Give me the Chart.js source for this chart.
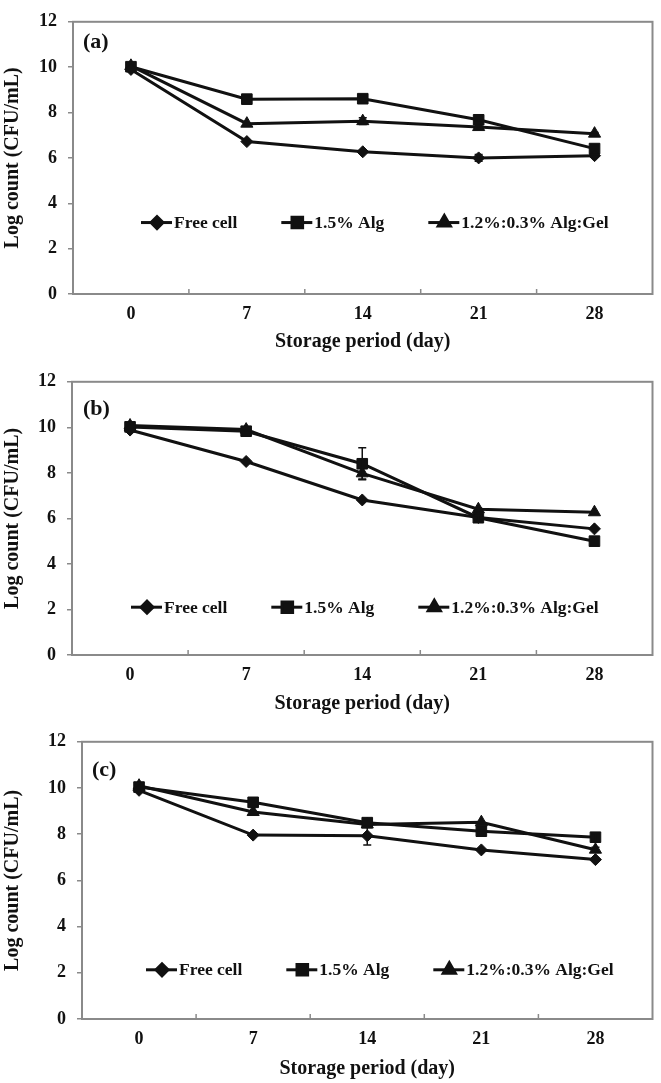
<!DOCTYPE html>
<html>
<head>
<meta charset="utf-8">
<script src="https://cdn.jsdelivr.net/npm/chart.js@4.4.0/dist/chart.umd.min.js"></script>
<style>
  body { margin: 0; background: #fff; }
  canvas { display: block; }
</style>
</head>
<body>
<canvas id="chartA" width="661" height="360"></canvas>
<canvas id="chartB" width="661" height="360"></canvas>
<canvas id="chartC" width="661" height="363"></canvas>
<script>
// storage days (x categories) and series names
const days = ['0', '7', '14', '21', '28'];
const seriesNames = ['Free cell', '1.5% Alg', '1.2%:0.3% Alg:Gel'];
const yTickValues = [0, 2, 4, 6, 8, 10, 12];

// panel (a)
const aFree = [9.90, 6.72, 6.27, 6.00, 6.10];
const aAlg = [10.02, 8.59, 8.61, 7.68, 6.41];
const aGel = [10.06, 7.51, 7.62, 7.36, 7.07];
const aFreeErr = [0, 0, 0, 0.15, 0.05];
const aAlgErr = [0, 0, 0, 0.05, 0];
const aGelErr = [0, 0, 0.15, 0.08, 0.05];

// panel (b)
const bFree = [9.88, 8.50, 6.81, 6.04, 5.54];
const bAlg = [10.02, 9.83, 8.40, 6.03, 5.00];
const bGel = [10.08, 9.90, 7.98, 6.40, 6.27];
const bFreeErr = [0, 0, 0, 0.10, 0];
const bAlgErr = [0, 0.05, 0.70, 0.10, 0];
const bGelErr = [0, 0, 0.25, 0.05, 0];

// panel (c)
const cFree = [9.90, 7.96, 7.93, 7.32, 6.90];
const cAlg = [10.04, 9.38, 8.50, 8.13, 7.87];
const cGel = [10.10, 8.96, 8.42, 8.52, 7.33];
const cFreeErr = [0, 0, 0.40, 0, 0];
const cAlgErr = [0, 0, 0, 0.05, 0.15];
const cGelErr = [0, 0, 0, 0, 0.10];

const ink = '#111';
const frame = '#8a8a8a';
const serif = "'Liberation Serif', 'Times New Roman', serif";
const markers = [
  { style: 'rectRot', radius: 6 },
  { style: 'rect', radius: 7.5 },
  { style: 'triangle', radius: 7 }
];

function marker(ctx, m, x, y) {
  ctx.save();
  ctx.fillStyle = ink;
  ctx.strokeStyle = ink;
  Chart.helpers.drawPoint(ctx, { pointStyle: m.style, radius: m.radius, rotation: 0, borderWidth: 1 }, x, y);
  ctx.restore();
}

// frame, inner x ticks, error bars, legend and panel letter
const decor = {
  id: 'decor',
  beforeDatasetsDraw(chart, args, opts) {
    const { ctx, chartArea: ca, scales: { x } } = chart;
    ctx.save();
    ctx.strokeStyle = frame;
    ctx.lineWidth = 2;
    ctx.strokeRect(ca.left, ca.top, ca.right - ca.left, ca.bottom - ca.top);
    ctx.lineWidth = 1.5;
    for (let i = 0; i < days.length - 1; i++) {
      const px = (x.getPixelForValue(i) + x.getPixelForValue(i + 1)) / 2;
      ctx.beginPath();
      ctx.moveTo(px, ca.bottom);
      ctx.lineTo(px, ca.bottom - 5);
      ctx.stroke();
    }
    ctx.restore();
  },
  afterDatasetsDraw(chart, args, opts) {
    const { ctx, scales: { x, y } } = chart;
    ctx.save();
    ctx.strokeStyle = ink;
    ctx.lineWidth = 1.5;
    chart.data.datasets.forEach(ds => {
      ds.errors.forEach((e, i) => {
        if (!e) return;
        const px = x.getPixelForValue(i);
        const hi = y.getPixelForValue(ds.data[i] + e);
        const lo = y.getPixelForValue(ds.data[i] - e);
        ctx.beginPath();
        ctx.moveTo(px, hi); ctx.lineTo(px, lo);
        ctx.moveTo(px - 4, hi); ctx.lineTo(px + 4, hi);
        ctx.moveTo(px - 4, lo); ctx.lineTo(px + 4, lo);
        ctx.stroke();
      });
    });
    ctx.restore();
  },
  afterDraw(chart, args, opts) {
    const { ctx, chartArea: ca, scales: { y } } = chart;
    ctx.save();
    ctx.fillStyle = ink;
    ctx.textBaseline = 'middle';
    ctx.font = 'bold 22px ' + serif;
    ctx.fillText(opts.letter, ca.left + opts.letterDx, ca.top + opts.letterDy);

    // legend
    ctx.font = 'bold 17.5px ' + serif;
    const ly = y.getPixelForValue(opts.legendValue);
    let lx = opts.legendX;
    chart.data.datasets.forEach((ds, i) => {
      ctx.strokeStyle = ink;
      ctx.lineWidth = 3;
      ctx.beginPath();
      ctx.moveTo(lx, ly); ctx.lineTo(lx + 31, ly);
      ctx.stroke();
      marker(ctx, markers[i], lx + 16, ly);
      ctx.fillText(ds.label, lx + 33, ly + 1);
      lx += 33 + ctx.measureText(ds.label).width + 44;
    });
    ctx.restore();
  }
};

function makeChart(id, series, errs, g) {
  const datasets = series.map((data, i) => ({
    label: seriesNames[i],
    data: data,
    errors: errs[i],
    borderColor: ink,
    backgroundColor: ink,
    borderWidth: 3,
    pointStyle: markers[i].style,
    pointRadius: markers[i].radius,
    pointBorderWidth: 1,
    pointBackgroundColor: ink,
    pointBorderColor: ink,
    tension: 0
  }));
  const canvas = document.getElementById(id);
  return new Chart(canvas.getContext('2d'), {
    type: 'line',
    data: { labels: days, datasets: datasets },
    plugins: [decor],
    options: {
      responsive: false,
      animation: false,
      devicePixelRatio: 1,
      layout: { padding: { top: g.top, right: 661 - g.right, left: 0, bottom: 0 } },
      plugins: {
        legend: { display: false },
        tooltip: { enabled: false },
        decor: {
          letter: g.letter, letterDx: g.letterDx, letterDy: g.letterDy,
          legendValue: g.legendValue, legendX: g.legendX
        }
      },
      scales: {
        x: {
          offset: true,
          grid: { display: false, drawTicks: false },
          border: { display: false },
          ticks: { color: ink, padding: 10, font: { family: serif, size: 18, weight: 'bold' } },
          title: {
            display: true, text: 'Storage period (day)', color: ink,
            font: { family: serif, size: 20, weight: 'bold' },
            padding: { top: 0, bottom: g.titlePad }
          },
          afterFit(scale) { scale.height = g.height - g.bottom; }
        },
        y: {
          min: 0,
          max: 12,
          afterBuildTicks(scale) { scale.ticks = yTickValues.map(v => ({ value: v })); },
          grid: { drawOnChartArea: false, drawTicks: true, tickLength: 5, color: frame, lineWidth: 1.5 },
          border: { display: false },
          ticks: { color: ink, padding: 11, font: { family: serif, size: 18, weight: 'bold' } },
          title: {
            display: true, text: 'Log count (CFU/mL)', color: ink,
            font: { family: serif, size: 20, weight: 'bold' },
            padding: { top: 1, bottom: 0 }
          },
          afterFit(scale) { scale.width = g.left; }
        }
      }
    }
  });
}

makeChart('chartA', [aFree, aAlg, aGel], [aFreeErr, aAlgErr, aGelErr], {
  height: 360, left: 73, right: 654, top: 12, bottom: 294, titlePad: 6,
  letter: '(a)', letterDx: 10, letterDy: 21, legendValue: 3.15, legendX: 141
});
makeChart('chartB', [bFree, bAlg, bGel], [bFreeErr, bAlgErr, bGelErr], {
  height: 360, left: 72, right: 653, top: 15, bottom: 295, titlePad: 4,
  letter: '(b)', letterDx: 11, letterDy: 28, legendValue: 2.1, legendX: 131
});
makeChart('chartC', [cFree, cAlg, cGel], [cFreeErr, cAlgErr, cGelErr], {
  height: 363, left: 82, right: 653, top: 18, bottom: 299, titlePad: 2,
  letter: '(c)', letterDx: 10, letterDy: 29, legendValue: 2.13, legendX: 146
});
</script>
</body>
</html>
